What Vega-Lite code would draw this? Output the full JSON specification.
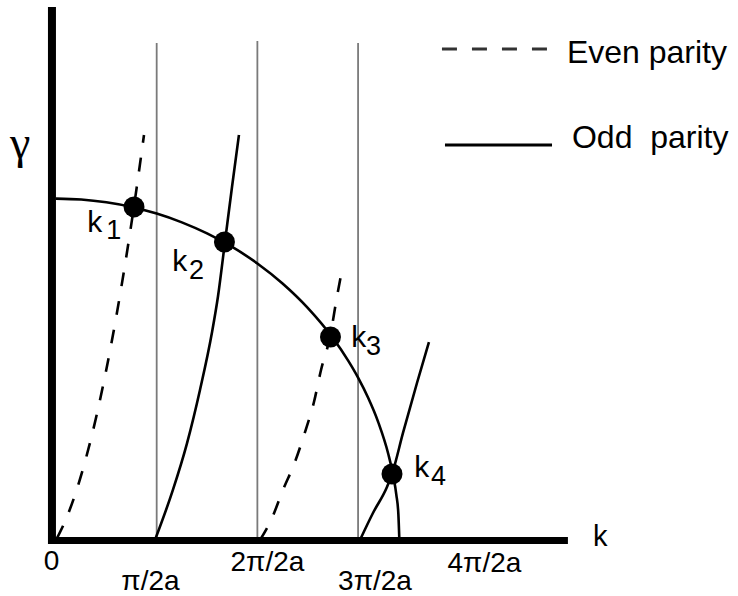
{
  "$schema": "https://vega.github.io/schema/vega-lite/v6.json",
  "width": 738,
  "height": 596,
  "padding": 0,
  "autosize": {"type": "none"},
  "background": "white",
  "config": {"view": {"stroke": null}, "text": {"font": "Liberation Sans", "color": "black"}},
  "datasets": {
    "vlines": [
      {"k": 1, "g": 0, "g2": 4.935},
      {"k": 2, "g": 0, "g2": 4.955},
      {"k": 3, "g": 0, "g2": 4.935}
    ],
    "circle": [
      {"k": 0, "g": 3.39}, {"k": 0.25, "g": 3.381}, {"k": 0.5, "g": 3.353}, {"k": 0.75, "g": 3.307},
      {"k": 1.0, "g": 3.241}, {"k": 1.25, "g": 3.154}, {"k": 1.5, "g": 3.044}, {"k": 1.75, "g": 2.91},
      {"k": 2.0, "g": 2.746}, {"k": 2.25, "g": 2.547}, {"k": 2.5, "g": 2.305}, {"k": 2.75, "g": 2.005},
      {"k": 2.9, "g": 1.783}, {"k": 3.0, "g": 1.612}, {"k": 3.1, "g": 1.412}, {"k": 3.2, "g": 1.171},
      {"k": 3.3, "g": 0.854}, {"k": 3.35, "g": 0.633}, {"k": 3.38, "g": 0.449}, {"k": 3.4, "g": 0.26},
      {"k": 3.41, "g": 0}
    ],
    "even": [
      {"id": "e1", "k": 0.01, "g": 0.018}, {"id": "e1", "k": 0.1, "g": 0.209}, {"id": "e1", "k": 0.2, "g": 0.482},
      {"id": "e1", "k": 0.3, "g": 0.821}, {"id": "e1", "k": 0.4, "g": 1.224}, {"id": "e1", "k": 0.5, "g": 1.693},
      {"id": "e1", "k": 0.6, "g": 2.226}, {"id": "e1", "k": 0.7, "g": 2.825}, {"id": "e1", "k": 0.775, "g": 3.316},
      {"id": "e1", "k": 0.874, "g": 4.022},
      {"id": "e2", "k": 2.026, "g": 0}, {"id": "e2", "k": 2.145, "g": 0.218}, {"id": "e2", "k": 2.254, "g": 0.497},
      {"id": "e2", "k": 2.373, "g": 0.775}, {"id": "e2", "k": 2.473, "g": 1.072}, {"id": "e2", "k": 2.562, "g": 1.37},
      {"id": "e2", "k": 2.632, "g": 1.688}, {"id": "e2", "k": 2.721, "g": 2.016}, {"id": "e2", "k": 2.79, "g": 2.413},
      {"id": "e2", "k": 2.85, "g": 2.731}
    ],
    "odd": [
      {"id": "o1", "k": 0.983, "g": 0}, {"id": "o1", "k": 1.162, "g": 0.5}, {"id": "o1", "k": 1.301, "g": 0.96},
      {"id": "o1", "k": 1.43, "g": 1.49}, {"id": "o1", "k": 1.549, "g": 2.06}, {"id": "o1", "k": 1.609, "g": 2.42},
      {"id": "o1", "k": 1.678, "g": 2.959}, {"id": "o1", "k": 1.748, "g": 3.505}, {"id": "o1", "k": 1.817, "g": 4.022},
      {"id": "o2", "k": 3.019, "g": 0}, {"id": "o2", "k": 3.148, "g": 0.268}, {"id": "o2", "k": 3.287, "g": 0.526},
      {"id": "o2", "k": 3.337, "g": 0.655}, {"id": "o2", "k": 3.446, "g": 1.063}, {"id": "o2", "k": 3.585, "g": 1.559},
      {"id": "o2", "k": 3.704, "g": 1.966}
    ],
    "dots": [
      {"k": 0.775, "g": 3.307}, {"k": 1.673, "g": 2.959}, {"k": 2.726, "g": 2.016}, {"k": 3.337, "g": 0.655}
    ],
    "vaxis": [{"k": -0.04, "g": -0.04, "g2": 5.293}],
    "haxis": [{"k": -0.079, "k2": 5.084, "g": -0.005}],
    "legDash": [{"k": 3.833, "k2": 4.886, "g": 4.876}],
    "legSolid": [{"k": 3.863, "k2": 4.926, "g": 3.923}],
    "legText": [
      {"k": 5.074, "g": 4.737, "label": "Even parity"},
      {"k": 5.124, "g": 3.893, "label": "Odd\u00a0 parity"}
    ],
    "tickText": [
      {"k": -0.045, "g": -0.298, "label": "0"},
      {"k": 0.938, "g": -0.496, "label": "π/2a"},
      {"k": 2.1, "g": -0.308, "label": "2π/2a"},
      {"k": 3.168, "g": -0.496, "label": "3π/2a"},
      {"k": 4.255, "g": -0.318, "label": "4π/2a"}
    ],
    "kText": [
      {"k": 0.31, "g": 3.059, "label": "k"},
      {"k": 1.155, "g": 2.671, "label": "k"},
      {"k": 2.932, "g": 1.917, "label": "k"},
      {"k": 3.558, "g": 0.626, "label": "k"}
    ],
    "subText": [
      {"k": 0.5, "g": 2.989, "label": "1"},
      {"k": 1.32, "g": 2.592, "label": "2"},
      {"k": 3.078, "g": 1.837, "label": "3"},
      {"k": 3.724, "g": 0.546, "label": "4"}
    ],
    "kTitle": [{"k": 5.333, "g": -0.06, "label": "k"}],
    "gTitle": [{"k": -0.357, "g": 3.793, "label": "γ"}]
  },
  "encoding": {
    "x": {"field": "k", "type": "quantitative", "scale": {"domain": [-0.556, 6.773], "nice": false, "zero": false}, "axis": null},
    "y": {"field": "g", "type": "quantitative", "scale": {"domain": [-0.556, 5.362], "nice": false, "zero": false}, "axis": null}
  },
  "layer": [
    {"data": {"name": "vlines"}, "mark": {"type": "rule", "color": "#7a7a7a", "strokeWidth": 1.8},
     "encoding": {"y2": {"field": "g2"}}},
    {"data": {"name": "circle"}, "mark": {"type": "line", "color": "black", "strokeWidth": 2.6, "interpolate": "monotone"},
     "encoding": {}},
    {"data": {"name": "even"}, "mark": {"type": "line", "color": "black", "strokeWidth": 2.6, "strokeDash": [14, 15], "interpolate": "monotone"},
     "encoding": {"detail": {"field": "id"}}},
    {"data": {"name": "odd"}, "mark": {"type": "line", "color": "black", "strokeWidth": 2.6, "interpolate": "monotone"},
     "encoding": {"detail": {"field": "id"}}},
    {"data": {"name": "vaxis"}, "mark": {"type": "rule", "color": "black", "strokeWidth": 8, "strokeCap": "butt"},
     "encoding": {"y2": {"field": "g2"}}},
    {"data": {"name": "haxis"}, "mark": {"type": "rule", "color": "black", "strokeWidth": 7, "strokeCap": "butt"},
     "encoding": {"x2": {"field": "k2"}}},
    {"data": {"name": "legDash"}, "mark": {"type": "rule", "color": "#333333", "strokeWidth": 3, "strokeDash": [15, 15], "strokeCap": "butt"},
     "encoding": {"x2": {"field": "k2"}}},
    {"data": {"name": "legSolid"}, "mark": {"type": "rule", "color": "black", "strokeWidth": 3, "strokeCap": "butt"},
     "encoding": {"x2": {"field": "k2"}}},
    {"data": {"name": "dots"}, "mark": {"type": "point", "filled": true, "color": "black", "opacity": 1, "size": 440, "strokeWidth": 0},
     "encoding": {}},
    {"data": {"name": "legText"}, "mark": {"type": "text", "fontSize": 32, "align": "left", "baseline": "alphabetic"},
     "encoding": {"text": {"field": "label"}}},
    {"data": {"name": "tickText"}, "mark": {"type": "text", "fontSize": 28, "align": "center", "baseline": "alphabetic"},
     "encoding": {"text": {"field": "label"}}},
    {"data": {"name": "kText"}, "mark": {"type": "text", "fontSize": 30, "align": "left", "baseline": "alphabetic"},
     "encoding": {"text": {"field": "label"}}},
    {"data": {"name": "subText"}, "mark": {"type": "text", "fontSize": 27, "align": "left", "baseline": "alphabetic"},
     "encoding": {"text": {"field": "label"}}},
    {"data": {"name": "kTitle"}, "mark": {"type": "text", "fontSize": 29, "align": "left", "baseline": "alphabetic"},
     "encoding": {"text": {"field": "label"}}},
    {"data": {"name": "gTitle"}, "mark": {"type": "text", "fontSize": 46, "font": "Liberation Serif", "align": "center", "baseline": "alphabetic"},
     "encoding": {"text": {"field": "label"}}}
  ]
}
